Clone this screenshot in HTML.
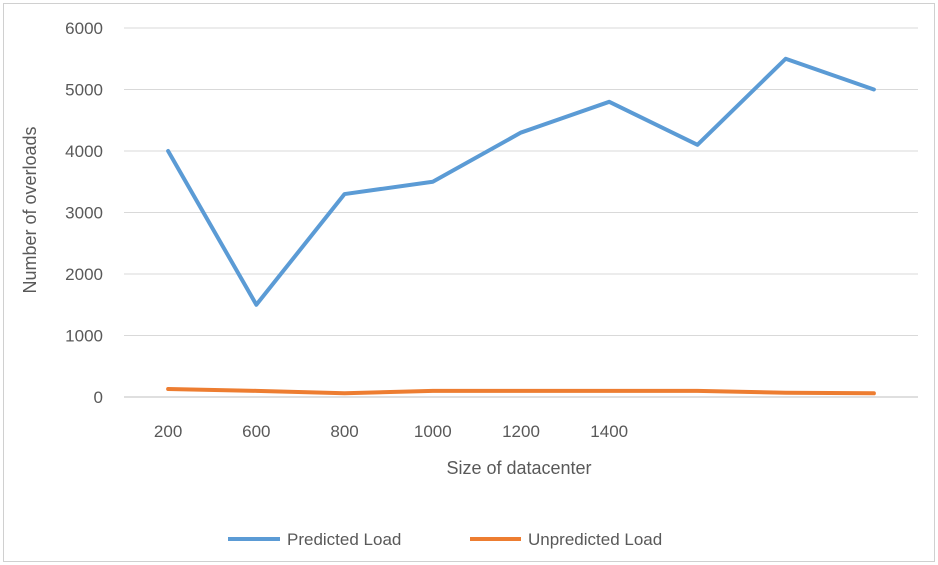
<!DOCTYPE html>
<html><head><meta charset="utf-8"><style>
body{margin:0;background:#fff;}
svg{display:block;font-family:"Liberation Sans",sans-serif;}
</style></head><body>
<svg width="938" height="565">
<rect x="3.5" y="3.5" width="931" height="558" fill="#fff" stroke="#d0d0d0"/>
<g id="grid"></g><g id="series"></g><g id="labels"></g>
<text x="519" y="474" text-anchor="middle" font-size="18" fill="#595959">Size of datacenter</text>
<text transform="translate(36,210) rotate(-90)" text-anchor="middle" font-size="18" fill="#595959">Number of overloads</text>
<g>
<line x1="228" y1="539" x2="280" y2="539" stroke="#5b9bd5" stroke-width="4"/>
<text x="287" y="545" font-size="17" fill="#595959">Predicted Load</text>
<line x1="470" y1="539" x2="521" y2="539" stroke="#ed7d31" stroke-width="4"/>
<text x="528" y="545" font-size="17" fill="#595959">Unpredicted Load</text>
</g>
</svg>
<script>
const categories=["200","600","800","1000","1200","1400","","",""];
const predicted=[4000,1500,3300,3500,4300,4800,4100,5500,5000];
const unpredicted=[130,100,60,100,100,100,100,70,60];
const yTicks=[0,1000,2000,3000,4000,5000,6000];
const L=124,R=918,Y0=397,Y6=28;
const band=(R-L)/categories.length;
const xs=i=>L+band*(i+0.5);
const ys=v=>Y0-(v/6000)*(Y0-Y6);
const NS="http://www.w3.org/2000/svg";
const g=document.getElementById('grid'),s=document.getElementById('series'),lb=document.getElementById('labels');
yTicks.forEach(t=>{
 const l=document.createElementNS(NS,'line');
 l.setAttribute('x1',L);l.setAttribute('x2',R);l.setAttribute('y1',ys(t));l.setAttribute('y2',ys(t));
 l.setAttribute('stroke',t===0?'#bfbfbf':'#d9d9d9');l.setAttribute('stroke-width','1');
 
 
 g.appendChild(l);
 const tx=document.createElementNS(NS,'text');
 tx.setAttribute('x',103);tx.setAttribute('y',ys(t)+6);tx.setAttribute('text-anchor','end');
 tx.setAttribute('font-size','17');tx.setAttribute('fill','#595959');tx.textContent=t;
 
 
 lb.appendChild(tx);
});
categories.forEach((c,i)=>{
 if(!c)return;
 const tx=document.createElementNS(NS,'text');
 tx.setAttribute('x',xs(i));tx.setAttribute('y',437);tx.setAttribute('text-anchor','middle');
 tx.setAttribute('font-size','17');tx.setAttribute('fill','#595959');tx.textContent=c;
 
 
 lb.appendChild(tx);
});
function line(vals,color,name){
 const p=document.createElementNS(NS,'polyline');
 p.setAttribute('points',vals.map((v,i)=>xs(i)+','+ys(v)).join(' '));
 p.setAttribute('fill','none');p.setAttribute('stroke',color);p.setAttribute('stroke-width','4');
 p.setAttribute('stroke-linejoin','round');p.setAttribute('stroke-linecap','round');
 
 
 s.appendChild(p);
}
line(predicted,'#5b9bd5','predicted-load-line');
line(unpredicted,'#ed7d31','unpredicted-load-line');
</script>
</body></html>
